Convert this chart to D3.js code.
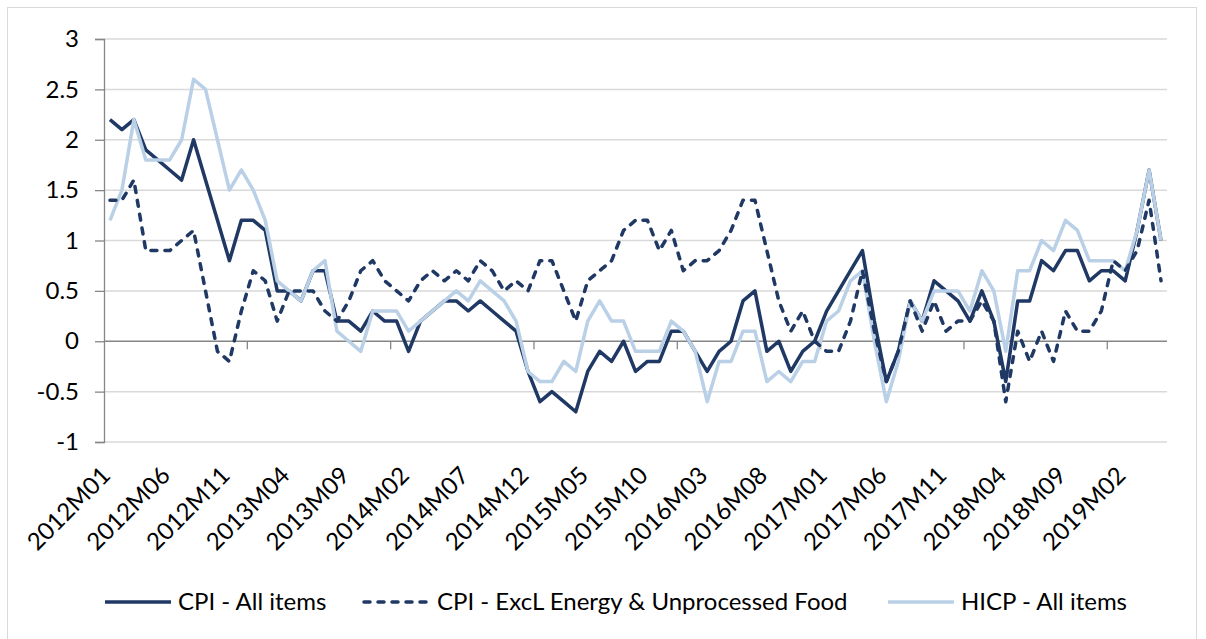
<!DOCTYPE html>
<html>
<head>
<meta charset="utf-8">
<script src="https://cdn.jsdelivr.net/npm/d3@7"></script>
<style>
  body { margin: 0; background: #fff; }
  text { font-family: Lato, "Open Sans", sans-serif; fill: #000; }
</style>
</head>
<body>
<div id="chart"></div>
<script>
// monthly categories 2012M01 .. 2019M05
var months = [];
for (var yr = 2012; yr <= 2019; yr++) {
    for (var mo = 1; mo <= 12; mo++) {
        if (yr === 2019 && mo > 5) break;
        months.push(yr + "M" + (mo < 10 ? "0" + mo : mo));
    }
}

var tickLabels = ["2012M01", "2012M06", "2012M11", "2013M04", "2013M09", "2014M02",
    "2014M07", "2014M12", "2015M05", "2015M10", "2016M03", "2016M08", "2017M01",
    "2017M06", "2017M11", "2018M04", "2018M09", "2019M02"];

var yTicks = [-1, -0.5, 0, 0.5, 1, 1.5, 2, 2.5, 3];

var seriesNames = ["CPI - All items", "CPI - ExcL Energy & Unprocessed Food", "HICP - All items"];

var cpiAll = [2.2, 2.1, 2.2, 1.9, 1.8, 1.7, 1.6, 2.0, 1.6, 1.2, 0.8, 1.2,
    1.2, 1.1, 0.5, 0.5, 0.4, 0.7, 0.7, 0.2, 0.2, 0.1, 0.3, 0.2,
    0.2, -0.1, 0.2, 0.3, 0.4, 0.4, 0.3, 0.4, 0.3, 0.2, 0.1, -0.3,
    -0.6, -0.5, -0.6, -0.7, -0.3, -0.1, -0.2, 0.0, -0.3, -0.2, -0.2, 0.1,
    0.1, -0.1, -0.3, -0.1, 0.0, 0.4, 0.5, -0.1, 0.0, -0.3, -0.1, 0.0,
    0.3, 0.5, 0.7, 0.9, 0.2, -0.4, -0.1, 0.4, 0.2, 0.6, 0.5, 0.4,
    0.2, 0.5, 0.2, -0.4, 0.4, 0.4, 0.8, 0.7, 0.9, 0.9, 0.6, 0.7,
    0.7, 0.6, 1.1, 1.7, 1.0];

var cpiCore = [1.4, 1.4, 1.6, 0.9, 0.9, 0.9, 1.0, 1.1, 0.5, -0.1, -0.2, 0.3,
    0.7, 0.6, 0.2, 0.5, 0.5, 0.5, 0.3, 0.2, 0.4, 0.7, 0.8, 0.6,
    0.5, 0.4, 0.6, 0.7, 0.6, 0.7, 0.6, 0.8, 0.7, 0.5, 0.6, 0.5,
    0.8, 0.8, 0.5, 0.2, 0.6, 0.7, 0.8, 1.1, 1.2, 1.2, 0.9, 1.1,
    0.7, 0.8, 0.8, 0.9, 1.1, 1.4, 1.4, 0.9, 0.4, 0.1, 0.3, 0.0,
    -0.1, -0.1, 0.2, 0.7, 0.1, -0.4, -0.1, 0.4, 0.1, 0.4, 0.1, 0.2,
    0.2, 0.4, 0.2, -0.6, 0.1, -0.2, 0.1, -0.2, 0.3, 0.1, 0.1, 0.3,
    0.8, 0.7, 0.9, 1.4, 0.6];

var hicpAll = [1.2, 1.5, 2.2, 1.8, 1.8, 1.8, 2.0, 2.6, 2.5, 2.0, 1.5, 1.7,
    1.5, 1.2, 0.6, 0.5, 0.4, 0.7, 0.8, 0.1, 0.0, -0.1, 0.3, 0.3,
    0.3, 0.1, 0.2, 0.3, 0.4, 0.5, 0.4, 0.6, 0.5, 0.4, 0.2, -0.3,
    -0.4, -0.4, -0.2, -0.3, 0.2, 0.4, 0.2, 0.2, -0.1, -0.1, -0.1, 0.2,
    0.1, -0.1, -0.6, -0.2, -0.2, 0.1, 0.1, -0.4, -0.3, -0.4, -0.2, -0.2,
    0.2, 0.3, 0.6, 0.7, 0.0, -0.6, -0.2, 0.4, 0.2, 0.5, 0.5, 0.5,
    0.3, 0.7, 0.5, -0.1, 0.7, 0.7, 1.0, 0.9, 1.2, 1.1, 0.8, 0.8,
    0.8, 0.7, 1.1, 1.7, 1.0];

var width = 1206, height = 639;
var plotLeft = 104, plotRight = 1167, plotTop = 39, plotBottom = 442;

var svg = d3.select("#chart").append("svg").attr("width", width).attr("height", height);

// outer chart frame
svg.append("rect").attr("x", 7.5).attr("y", 7.5).attr("width", 1189).attr("height", 700)
    .attr("fill", "none").attr("stroke", "#d9d9d9").attr("stroke-width", 1);

var x = d3.scaleBand().domain(months).range([plotLeft, plotRight]);
var y = d3.scaleLinear().domain([-1, 3]).range([plotBottom, plotTop]);
var half = x.bandwidth() / 2;

// gridlines
svg.append("g").selectAll("line").data(yTicks.filter(function (d) { return d !== 0 })).enter().append("line")
    .attr("x1", plotLeft).attr("x2", plotRight)
    .attr("y1", function (d) { return y(d) }).attr("y2", function (d) { return y(d) })
    .attr("stroke", "#d9d9d9").attr("stroke-width", 1.5);

// value axis
var yAxis = d3.axisLeft(y).tickValues(yTicks).tickSize(9).tickPadding(16)
    .tickFormat(function (d) { return String(d) });
var gy = svg.append("g").attr("transform", "translate(" + plotLeft + ",0)").call(yAxis);
gy.select(".domain").attr("stroke", "#868686").attr("stroke-width", 1.3);
gy.selectAll(".tick line").attr("stroke", "#868686").attr("stroke-width", 1.3);
gy.selectAll(".tick text").attr("font-size", 24).attr("font-family", "Lato").attr("fill", "#000");

// category axis crossing at zero
svg.append("line").attr("x1", plotLeft).attr("x2", plotRight).attr("y1", y(0)).attr("y2", y(0))
    .attr("stroke", "#868686").attr("stroke-width", 1.3);
var tickCats = months.filter(function (d, i) { return i > 0 && i % 12 === 0 });
svg.append("g").selectAll("line").data(tickCats).enter().append("line")
    .attr("x1", function (d) { return x(d) }).attr("x2", function (d) { return x(d) })
    .attr("y1", y(0)).attr("y2", y(0) + 8)
    .attr("stroke", "#868686").attr("stroke-width", 1.3);

// rotated category labels
svg.append("g").selectAll("text").data(tickLabels).enter().append("text")
    .attr("transform", function (d) {
        return "translate(" + (x(d) + half + 2) + ",477) rotate(-45)";
    })
    .attr("text-anchor", "end")
    .attr("font-size", 24)
    .text(function (d) { return d });

// series lines
var line = function (vals) {
    return d3.line()
        .x(function (d, i) { return x(months[i]) + half })
        .y(function (d) { return y(d) })(vals);
};

svg.append("path").attr("d", line(cpiAll)).attr("fill", "none")
    .attr("stroke", "#1f3864").attr("stroke-width", 3.5).attr("stroke-linejoin", "round");
svg.append("path").attr("d", line(hicpAll)).attr("fill", "none")
    .attr("stroke", "#bad0e6").attr("stroke-width", 3.5).attr("stroke-linejoin", "round");
svg.append("path").attr("d", line(cpiCore)).attr("fill", "none")
    .attr("stroke", "#1f3864").attr("stroke-width", 3.5).attr("stroke-linejoin", "round")
    .attr("stroke-linecap", "round").attr("stroke-dasharray", "6,8");

// legend
var legendItems = [
    { name: seriesNames[0], x0: 105, color: "#1f3864", dash: null },
    { name: seriesNames[1], x0: 364, color: "#1f3864", dash: "6,8" },
    { name: seriesNames[2], x0: 888, color: "#bad0e6", dash: null }
];
var lg = svg.append("g").selectAll("g").data(legendItems).enter().append("g");
lg.append("line")
    .attr("x1", function (d) { return d.x0 }).attr("x2", function (d) { return d.x0 + 66 })
    .attr("y1", 602).attr("y2", 602)
    .attr("stroke", function (d) { return d.color }).attr("stroke-width", 3.5)
    .attr("stroke-linecap", function (d) { return d.dash ? "round" : "butt" })
    .attr("stroke-dasharray", function (d) { return d.dash });
lg.append("text")
    .attr("x", function (d) { return d.x0 + 73 }).attr("y", 602).attr("dy", "0.35em")
    .attr("font-size", 24)
    .text(function (d) { return d.name });
</script>
</body>
</html>
